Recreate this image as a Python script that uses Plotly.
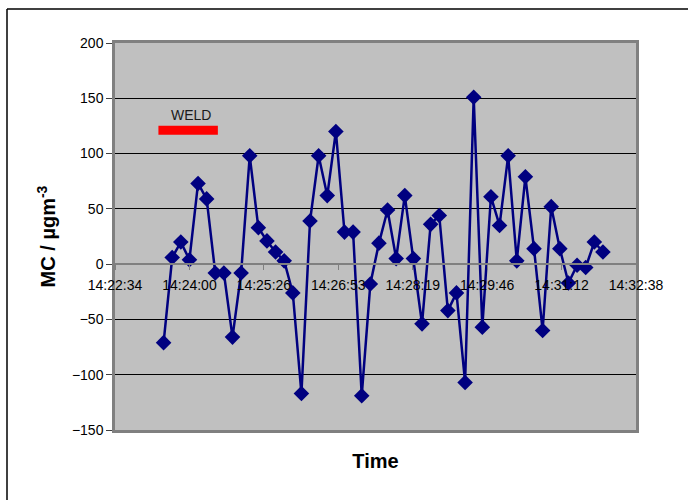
import plotly.graph_objects as go

# Sample times (one reading every 10 s) and mass concentration values
times = [
    "14:23:30", "14:23:40", "14:23:50", "14:24:00", "14:24:10", "14:24:20",
    "14:24:30", "14:24:40", "14:24:50", "14:25:00", "14:25:10", "14:25:20",
    "14:25:30", "14:25:40", "14:25:50", "14:26:00", "14:26:10", "14:26:20",
    "14:26:30", "14:26:40", "14:26:50", "14:27:00", "14:27:10", "14:27:20",
    "14:27:30", "14:27:40", "14:27:50", "14:28:00", "14:28:10", "14:28:20",
    "14:28:30", "14:28:40", "14:28:50", "14:29:00", "14:29:10", "14:29:20",
    "14:29:30", "14:29:40", "14:29:50", "14:30:00", "14:30:10", "14:30:20",
    "14:30:30", "14:30:40", "14:30:50", "14:31:00", "14:31:10", "14:31:20",
    "14:31:30", "14:31:40", "14:31:50", "14:32:00",
]
mc_values = [
    -71, 6, 20, 4, 73, 59, -8, -8, -66, -8, 98, 33,
    21, 11, 3, -26, -117, 39, 98, 62, 120, 29, 29, -119,
    -18, 19, 49, 5, 62, 5, -54, 36, 44, -42, -26, -107,
    151, -57, 61, 35, 98, 3, 79, 14, -60, 52, 14, -17,
    -1, -3, 20, 11,
]

# Welding period
weld_times = ["14:23:24", "14:24:33"]
weld_level = [121, 121]

# Axis ticks
x_range = ["14:22:33.6", "14:32:38.4"]
x_tick_times = ["14:22:33.6", "14:24:00", "14:25:26.4", "14:26:52.8",
                "14:28:19.2", "14:29:45.6", "14:31:12", "14:32:38.4"]
x_tick_labels = ["14:22:34", "14:24:00", "14:25:26", "14:26:53",
                 "14:28:19", "14:29:46", "14:31:12", "14:32:38"]
y_ticks = [-150, -100, -50, 0, 50, 100, 150, 200]

DAY = "2000-01-01 "


def stamp(seq):
    return [DAY + t for t in seq]


W, H = 688, 500
ML, MR, MT, MB = 115, 52, 43, 70
y_min, y_max = -150, 200
FONT = "Liberation Sans, Arial, sans-serif"
NAVY = "#000080"
FRAME = "#808080"

fig = go.Figure()

fig.add_trace(go.Scatter(
    x=stamp(times), y=mc_values, mode="lines+markers",
    line=dict(color=NAVY, width=2.5),
    marker=dict(symbol="diamond", size=12, color=NAVY),
    showlegend=False, hoverinfo="x+y",
))

fig.add_trace(go.Scatter(
    x=stamp(weld_times), y=weld_level, mode="lines",
    line=dict(color="#FF0000", width=9),
    showlegend=False, hoverinfo="skip",
))

# Secondary x-axis carrying the time labels where y = 0
fig.add_trace(go.Scatter(
    x=stamp(x_range), y=[None, None], xaxis="x2", yaxis="y",
    showlegend=False, hoverinfo="skip",
))

fig.add_annotation(
    x=DAY + "14:24:02", y=weld_level[0], text="WELD", showarrow=False,
    yshift=15, font=dict(family=FONT, size=14, color="#1a1a1a"),
)

zero_pos = (0 - y_min) / (y_max - y_min)

fig.update_layout(
    width=W, height=H,
    margin=dict(l=ML, r=MR, t=MT, b=MB, pad=0),
    paper_bgcolor="white",
    plot_bgcolor="#C0C0C0",
    font=dict(family=FONT, size=14, color="black"),
    xaxis=dict(
        type="date", range=stamp(x_range),
        showticklabels=False, ticks="", showgrid=False, zeroline=False,
        showline=True, linecolor=FRAME, linewidth=2.5, mirror=True,
        title=dict(text="<b>Time</b>", font=dict(family=FONT, size=20),
                   standoff=23),
    ),
    xaxis2=dict(
        type="date", range=stamp(x_range), overlaying="x",
        anchor="free", position=zero_pos, side="bottom",
        tickmode="array", tickvals=stamp(x_tick_times), ticktext=x_tick_labels,
        ticks="outside", ticklen=5, tickcolor=FRAME, tickwidth=1,
        ticklabelstandoff=3,
        showline=True, linecolor=FRAME, linewidth=2,
        showgrid=False, zeroline=False,
        tickfont=dict(family=FONT, size=14, color="black"),
    ),
    yaxis=dict(
        range=[y_min, y_max], tickmode="array", tickvals=y_ticks,
        ticks="outside", ticklen=6, tickcolor="#404040",
        showgrid=True, gridcolor="black", gridwidth=1, zeroline=False,
        showline=True, linecolor=FRAME, linewidth=2.5, mirror=True,
        tickfont=dict(family=FONT, size=14, color="black"),
        title=dict(text="<b>MC / µgm<sup>-3</sup></b>",
                   font=dict(family=FONT, size=20), standoff=11),
    ),
)

# Chart outer frame: only its top and left edges lie within the page
pw, ph = W - ML - MR, H - MT - MB
frame_left = (7 - ML) / pw
frame_top = 1 + (MT - 9) / ph
fig.add_shape(
    type="line", xref="paper", yref="paper",
    x0=frame_left, x1=(W + 200 - ML) / pw, y0=frame_top, y1=frame_top,
    line=dict(color="black", width=1.5),
)
fig.add_shape(
    type="line", xref="paper", yref="paper",
    x0=frame_left, x1=frame_left, y0=frame_top, y1=-(MB + 200) / ph,
    line=dict(color="black", width=1.5),
)

fig.write_html("out.html")
